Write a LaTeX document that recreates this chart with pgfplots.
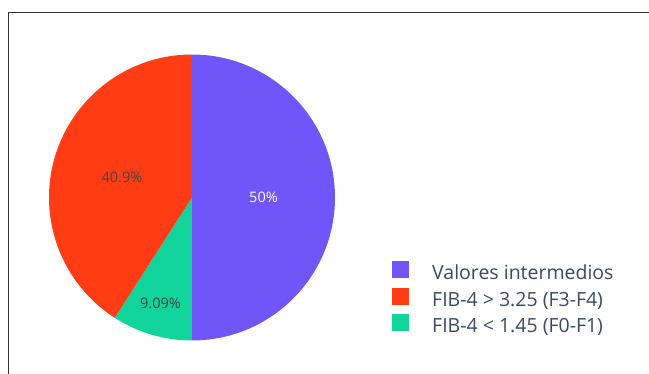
\documentclass[border=0pt]{standalone}
\usepackage{pgfplots}
\pgfplotsset{compat=1.18}
\usepackage{pgfplotstable}
\usepackage{fontspec}
\setmainfont{Open Sans}
\definecolor{cpurple}{HTML}{7055F8}
\definecolor{cred}{HTML}{FF3C14}
\definecolor{cgreen}{HTML}{10D49A}
\definecolor{ctext}{HTML}{444444}
\definecolor{clegend}{HTML}{3A4A63}

\pgfplotstableread{
value
11
9
2
}\piedata

\begin{document}
\begin{tikzpicture}
\pgfplotstablegetelem{0}{value}\of\piedata \pgfmathsetmacro\va{\pgfplotsretval}
\pgfplotstablegetelem{1}{value}\of\piedata \pgfmathsetmacro\vb{\pgfplotsretval}
\pgfplotstablegetelem{2}{value}\of\piedata \pgfmathsetmacro\vc{\pgfplotsretval}
\pgfmathsetmacro\tot{\va+\vb+\vc}
\pgfmathsetmacro\aA{90-360*\va/\tot}
\pgfmathsetmacro\aC{\aA-360*\vc/\tot}
\begin{axis}[scale only axis,
  width=286pt, height=286pt, xmin=-1, xmax=1, ymin=-1, ymax=1,
  hide axis, clip=false,
  legend image code/.code={\fill[#1] (0pt,-3pt) rectangle (17pt,14pt);},
  legend cell align=left,
  legend style={at={(1.1993,0.278)}, anchor=north west, draw=none, fill=none,
    inner sep=0pt, row sep=4pt, font=\fontsize{19.5}{22}\selectfont, text=clegend,
    nodes={inner sep=0pt, text height=13pt, text depth=4pt},
    /tikz/every odd column/.append style={column sep=23pt}},
]
\addlegendimage{fill=cpurple, draw=none}
\addlegendentry{Valores intermedios}
\addlegendimage{fill=cred, draw=none}
\addlegendentry{FIB-4 > 3.25 (F3-F4)}
\addlegendimage{fill=cgreen, draw=none}
\addlegendentry{FIB-4 < 1.45 (F0-F1)}
\fill[cpurple] (axis cs:0,0) -- (axis cs:0,1) arc[start angle=90, end angle=\aA, radius=143pt] -- cycle;
\fill[cgreen] (axis cs:0,0) -- (axis cs:0,-1) arc[start angle=\aA, end angle=\aC, radius=143pt] -- cycle;
\fill[cred] (axis cs:0,0) -- (axis cs:0,1) arc[start angle=90, end angle=\aC+360, radius=143pt] -- cycle;
\node[text=white, font=\fontsize{14.5}{17}\selectfont] at (axis cs:0.5,0) {50\%};
\node[text=ctext, font=\fontsize{14.5}{17}\selectfont] at (axis cs:-0.49,0.14) {40.9\%};
\node[text=ctext, font=\fontsize{14.5}{17}\selectfont] at (axis cs:-0.22,-0.74) {9.09\%};
\coordinate (C) at (axis cs:0,0);
\end{axis}
\pgfresetboundingbox
\begin{scope}[shift={(C)}]
\useasboundingbox (-192pt,-175.5pt) rectangle (457pt,197.5pt);
\draw[color=black!80, line width=1pt] (-183.5pt,-180pt) -- (-183.5pt,184.5pt) -- (460pt,184.5pt);
\end{scope}
\end{tikzpicture}
\end{document}
